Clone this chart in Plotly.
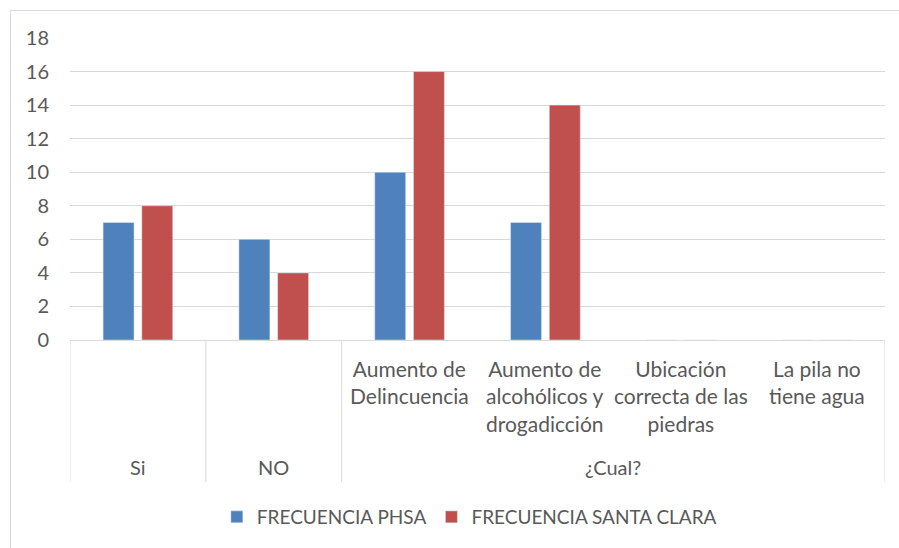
import plotly.graph_objects as go

# Survey answers and their frequencies
categories = ["Si", "NO", "Aumento de Delincuencia", "Aumento de alcohólicos y drogadicción",
              "Ubicación correcta de las piedras", "La pila no tiene agua"]
inner_labels = ["", "", "Aumento de<br>Delincuencia", "Aumento de<br>alcohólicos y<br>drogadicción",
                "Ubicación<br>correcta de las<br>piedras", "La pila no<br>tiene agua"]
outer_labels = ["Si", "NO", "¿Cual?"]
outer_positions = [0, 1, 3.5]
phsa = [7, 6, 10, 7, 0, 0]
santa_clara = [8, 4, 16, 14, 0, 0]
y_ticks = [0, 2, 4, 6, 8, 10, 12, 14, 16, 18]

W, H = 899, 548
L, R, T, B = 70, 14, 38, 208
plot_w = W - L - R
plot_h = H - T - B

FONT = "Lato"
TXT = "#595959"
GRID = "#D9D9D9"


def py(pix):
    """Pixel row -> paper y."""
    return (H - B - pix) / plot_h


def px(pix):
    """Pixel column -> paper x."""
    return (pix - L) / plot_w


fig = go.Figure()
fig.add_bar(x=categories, y=phsa, name="FRECUENCIA PHSA", marker_color="#4F81BD")
fig.add_bar(x=categories, y=santa_clara, name="FRECUENCIA SANTA CLARA", marker_color="#C0504D")

annotations = []
for cat, lab in zip(categories, inner_labels):
    if lab:
        annotations.append(dict(x=cat, xref="x", y=py(354), yref="paper", text=lab,
                                showarrow=False, yanchor="top", xanchor="center",
                                align="center", font=dict(family=FONT, size=21, color=TXT)))
for pos, lab in zip(outer_positions, outer_labels):
    annotations.append(dict(x=pos, xref="x", y=py(467), yref="paper", text=lab,
                            showarrow=False, yanchor="middle", xanchor="center",
                            font=dict(family=FONT, size=20, color=TXT)))

shapes = []
# Category axis dividers
for xv in [-0.5, 0.5, 1.5, 5.5]:
    shapes.append(dict(type="line", xref="x", yref="paper", x0=xv, x1=xv,
                       y0=py(340), y1=py(482), line=dict(color=GRID, width=1)))
# Outer chart border
shapes.append(dict(type="rect", xref="paper", yref="paper", x0=px(10.5), x1=px(920),
                   y0=py(560), y1=py(10.5), line=dict(color=GRID, width=1), layer="below"))

fig.update_layout(
    width=W, height=H,
    margin=dict(l=L, r=R, t=T, b=B),
    paper_bgcolor="white", plot_bgcolor="white",
    barmode="group", bargap=0.43, bargroupgap=0.2,
    font=dict(family=FONT, size=19, color=TXT),
    showlegend=True,
    legend=dict(orientation="h", x=0.49, xanchor="center", y=py(517), yanchor="middle",
                font=dict(family=FONT, size=19, color=TXT), itemwidth=30,
                traceorder="normal"),
    xaxis=dict(type="category", showticklabels=False, showgrid=False, zeroline=False,
               showline=True, linecolor=GRID, linewidth=1, range=[-0.5, 5.5]),
    yaxis=dict(range=[0, 18], tickvals=y_ticks, showgrid=True, gridcolor=GRID, gridwidth=1,
               zeroline=False, showline=False, ticks="", ticklabelstandoff=20,
               tickfont=dict(family=FONT, size=20, color=TXT)),
    annotations=annotations,
    shapes=shapes,
)

fig.write_html("out.html")
